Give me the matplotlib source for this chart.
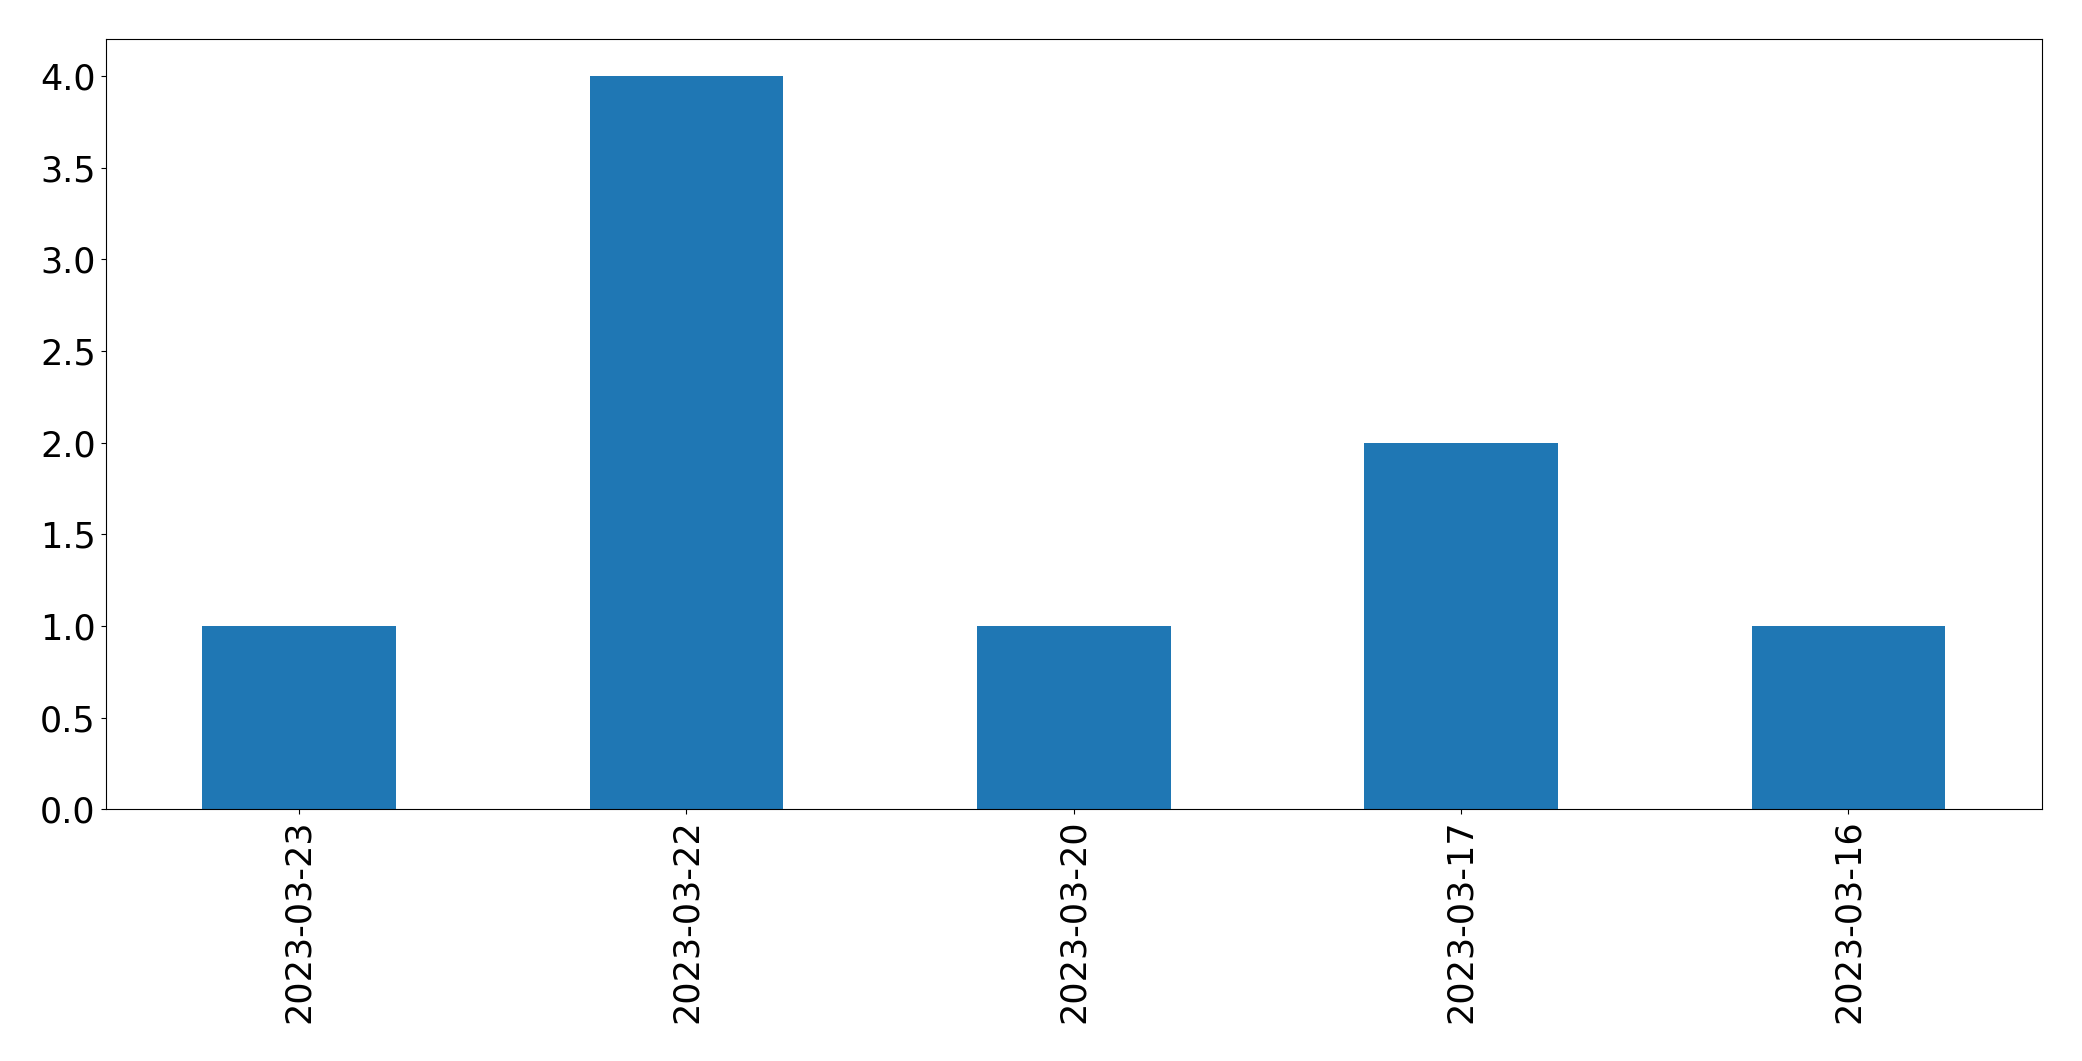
import matplotlib
matplotlib.use("Agg")
import matplotlib.pyplot as plt

dates = ["2023-03-23", "2023-03-22", "2023-03-20", "2023-03-17", "2023-03-16"]
counts = [1, 4, 1, 2, 1]

fig, ax = plt.subplots(figsize=(20.82, 10.61), dpi=100)
ax.bar(range(len(dates)), counts, width=0.5, color="#1f77b4")
ax.set_xlim(-0.5, len(dates) - 0.5)
ax.set_ylim(0, 4.2)
ax.set_xticks(range(len(dates)))
ax.set_xticklabels(dates, rotation=90)
ax.tick_params(labelsize=25.2)
fig.subplots_adjust(left=0.0507, right=0.9808, top=0.963, bottom=0.2372)
fig.savefig("out.png", dpi=100)
